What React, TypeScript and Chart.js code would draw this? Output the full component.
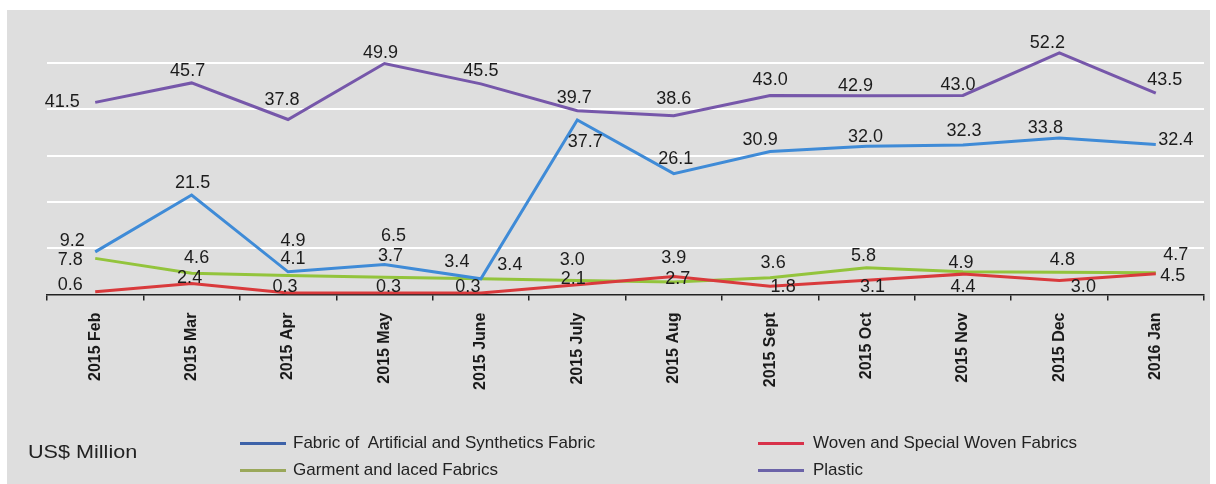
import React, { useEffect, useRef } from "react";
import { Chart, registerables } from "chart.js";

Chart.register(...registerables);

const categories = [
  "2015 Feb", "2015 Mar", "2015 Apr", "2015 May", "2015 June", "2015 July",
  "2015 Aug", "2015 Sept", "2015 Oct", "2015 Nov", "2015 Dec", "2016 Jan",
];

const fabricArtificial = [9.2, 21.5, 4.9, 6.5, 3.4, 37.7, 26.1, 30.9, 32.0, 32.3, 33.8, 32.4];
const wovenSpecial = [0.6, 2.4, 0.3, 0.3, 0.3, 2.1, 3.9, 1.8, 3.1, 4.4, 3.0, 4.5];
const garmentLaced = [7.8, 4.6, 4.1, 3.7, 3.4, 3.0, 2.7, 3.6, 5.8, 4.9, 4.8, 4.7];
const plastic = [41.5, 45.7, 37.8, 49.9, 45.5, 39.7, 38.6, 43.0, 42.9, 43.0, 52.2, 43.5];

const seriesNames = [
  "Fabric of  Artificial and Synthetics Fabric",
  "Woven and Special Woven Fabrics",
  "Garment and laced Fabrics",
  "Plastic",
];

const unitLabel = "US$ Million";

// label placement (offset of the value label relative to its point), styling only
const labelOffsetsFabric = [[-23, -11], [1, -12], [5, -31], [9, -28], [-24, -17], [8, 22], [2, -15], [-10, -11], [-1, -9], [1, -14], [-14, -10], [20, -4]];
const labelOffsetsWoven = [[-25, -7], [-2, -5], [-3, -6], [4, -6], [-13, -6], [-4, -6], [0, -18], [13, 1], [6, 7], [0, 13], [24, 6], [17, 2]];
const labelOffsetsGarment = [[-25, 2], [5, -15], [5, -16], [6, -21], [29, -14], [-5, -21], [4, -3], [3, -15], [-3, -12], [-2, -9], [3, -12], [20, -18]];
const labelOffsetsPlastic = [[-33, 0], [-4, -12], [-6, -19], [-4, -10], [0, -13], [-3, -13], [0, -17], [0, -15], [-11, -10], [-5, -10], [-12, -10], [9, -13]];

const COLORS = {
  fabric: "#3f8bd7",
  woven: "#d93a3c",
  garment: "#93c43c",
  plastic: "#7657aa",
};

const LEGEND_COLORS = ["#3d62a8", "#d8324a", "#9aa85a", "#6b63a8"];

const valueLabelsPlugin = {
  id: "valueLabels",
  afterDatasetsDraw(chart: any) {
    const ctx = chart.ctx;
    ctx.save();
    ctx.font = "18px 'Liberation Sans', Arial, sans-serif";
    ctx.fillStyle = "#1c1c1c";
    ctx.textAlign = "center";
    ctx.textBaseline = "middle";
    chart.data.datasets.forEach((ds: any, di: number) => {
      const meta = chart.getDatasetMeta(di);
      const offs = ds.labelOffsets || [];
      meta.data.forEach((pt: any, i: number) => {
        const v = ds.data[i];
        const o = offs[i] || [0, -12];
        ctx.fillText(Number(v).toFixed(1), pt.x + o[0], pt.y + o[1]);
      });
    });
    ctx.restore();
  },
};

export default function App() {
  const canvasRef = useRef<HTMLCanvasElement | null>(null);

  useEffect(() => {
    if (!canvasRef.current) return;
    const mk = (label: string, data: number[], color: string, offs: number[][]) => ({
      label,
      data,
      borderColor: color,
      backgroundColor: color,
      borderWidth: 3,
      pointRadius: 0,
      pointHoverRadius: 0,
      tension: 0,
      fill: false,
      labelOffsets: offs,
    });
    const chart = new Chart(canvasRef.current, {
      type: "line",
      data: {
        labels: categories,
        datasets: [
          mk(seriesNames[0], fabricArtificial, COLORS.fabric, labelOffsetsFabric),
          mk(seriesNames[1], wovenSpecial, COLORS.woven, labelOffsetsWoven),
          mk(seriesNames[2], garmentLaced, COLORS.garment, labelOffsetsGarment),
          mk(seriesNames[3], plastic, COLORS.plastic, labelOffsetsPlastic),
        ] as any,
      },
      options: {
        responsive: false,
        devicePixelRatio: 1,
        animation: false,
        layout: { padding: { left: 47, right: 12, top: 16.7, bottom: 0 } },
        plugins: {
          legend: { display: false },
          tooltip: { enabled: false },
        },
        scales: {
          x: {
            type: "category",
            offset: true,
            grid: {
              display: true,
              drawOnChartArea: false,
              drawTicks: true,
              tickLength: 6,
              color: "#222222",
              lineWidth: 1.5,
              offset: true,
            },
            border: { display: true, color: "#222222", width: 1.5 },
            ticks: {
              maxRotation: 90,
              minRotation: 90,
              autoSkip: false,
              padding: 12,
              color: "#1a1a1a",
              font: { family: "'Liberation Sans', Arial, sans-serif", size: 16, weight: "bold" },
            },
            afterFit: (scale: any) => {
              scale.height = 189.5;
            },
          },
          y: {
            min: 0,
            max: 60,
            grid: {
              drawTicks: false,
              lineWidth: 2,
              color: (c: any) => {
                const v = c.tick ? c.tick.value : 0;
                return v > 0 && v < 60 ? "#ffffff" : "rgba(0,0,0,0)";
              },
            },
            border: { display: false },
            ticks: { display: false, stepSize: 10 },
            afterFit: (scale: any) => {
              scale.width = 0;
            },
          },
        },
      } as any,
      plugins: [valueLabelsPlugin],
    });
    return () => chart.destroy();
  }, []);

  const font = "'Liberation Sans', Arial, sans-serif";
  const legendItems = [
    { name: seriesNames[0], color: LEGEND_COLORS[0], lineLeft: 240, textLeft: 293, y: 443 },
    { name: seriesNames[1], color: LEGEND_COLORS[1], lineLeft: 758, textLeft: 813, y: 443 },
    { name: seriesNames[2], color: LEGEND_COLORS[2], lineLeft: 240, textLeft: 293, y: 470 },
    { name: seriesNames[3], color: LEGEND_COLORS[3], lineLeft: 758, textLeft: 813, y: 470 },
  ];

  return (
    <div style={{ position: "fixed", left: 0, top: 0, width: 1216, height: 484, background: "#ffffff", overflow: "hidden" }}>
      <div style={{ position: "absolute", left: 7, top: 10, width: 1203, height: 474, background: "#dedede" }} />
      <canvas ref={canvasRef} width={1216} height={484} style={{ position: "absolute", left: 0, top: 0, width: 1216, height: 484 }} />
      <div
        style={{
          position: "absolute",
          left: 28,
          top: 452 - 11,
          height: 22,
          lineHeight: "22px",
          fontFamily: font,
          fontSize: 18,
          color: "#222",
          whiteSpace: "nowrap",
          transform: "scaleX(1.2)",
          transformOrigin: "left center",
        }}
      >
        {unitLabel}
      </div>
      {legendItems.map((it) => (
        <React.Fragment key={it.name}>
          <div style={{ position: "absolute", left: it.lineLeft, top: it.y - 1, width: 46, height: 2.5, background: it.color }} />
          <div
            style={{
              position: "absolute",
              left: it.textLeft,
              top: it.y - 10,
              height: 20,
              lineHeight: "20px",
              fontFamily: font,
              fontSize: 17,
              color: "#222",
              whiteSpace: "pre",
            }}
          >
            {it.name}
          </div>
        </React.Fragment>
      ))}
    </div>
  );
}
